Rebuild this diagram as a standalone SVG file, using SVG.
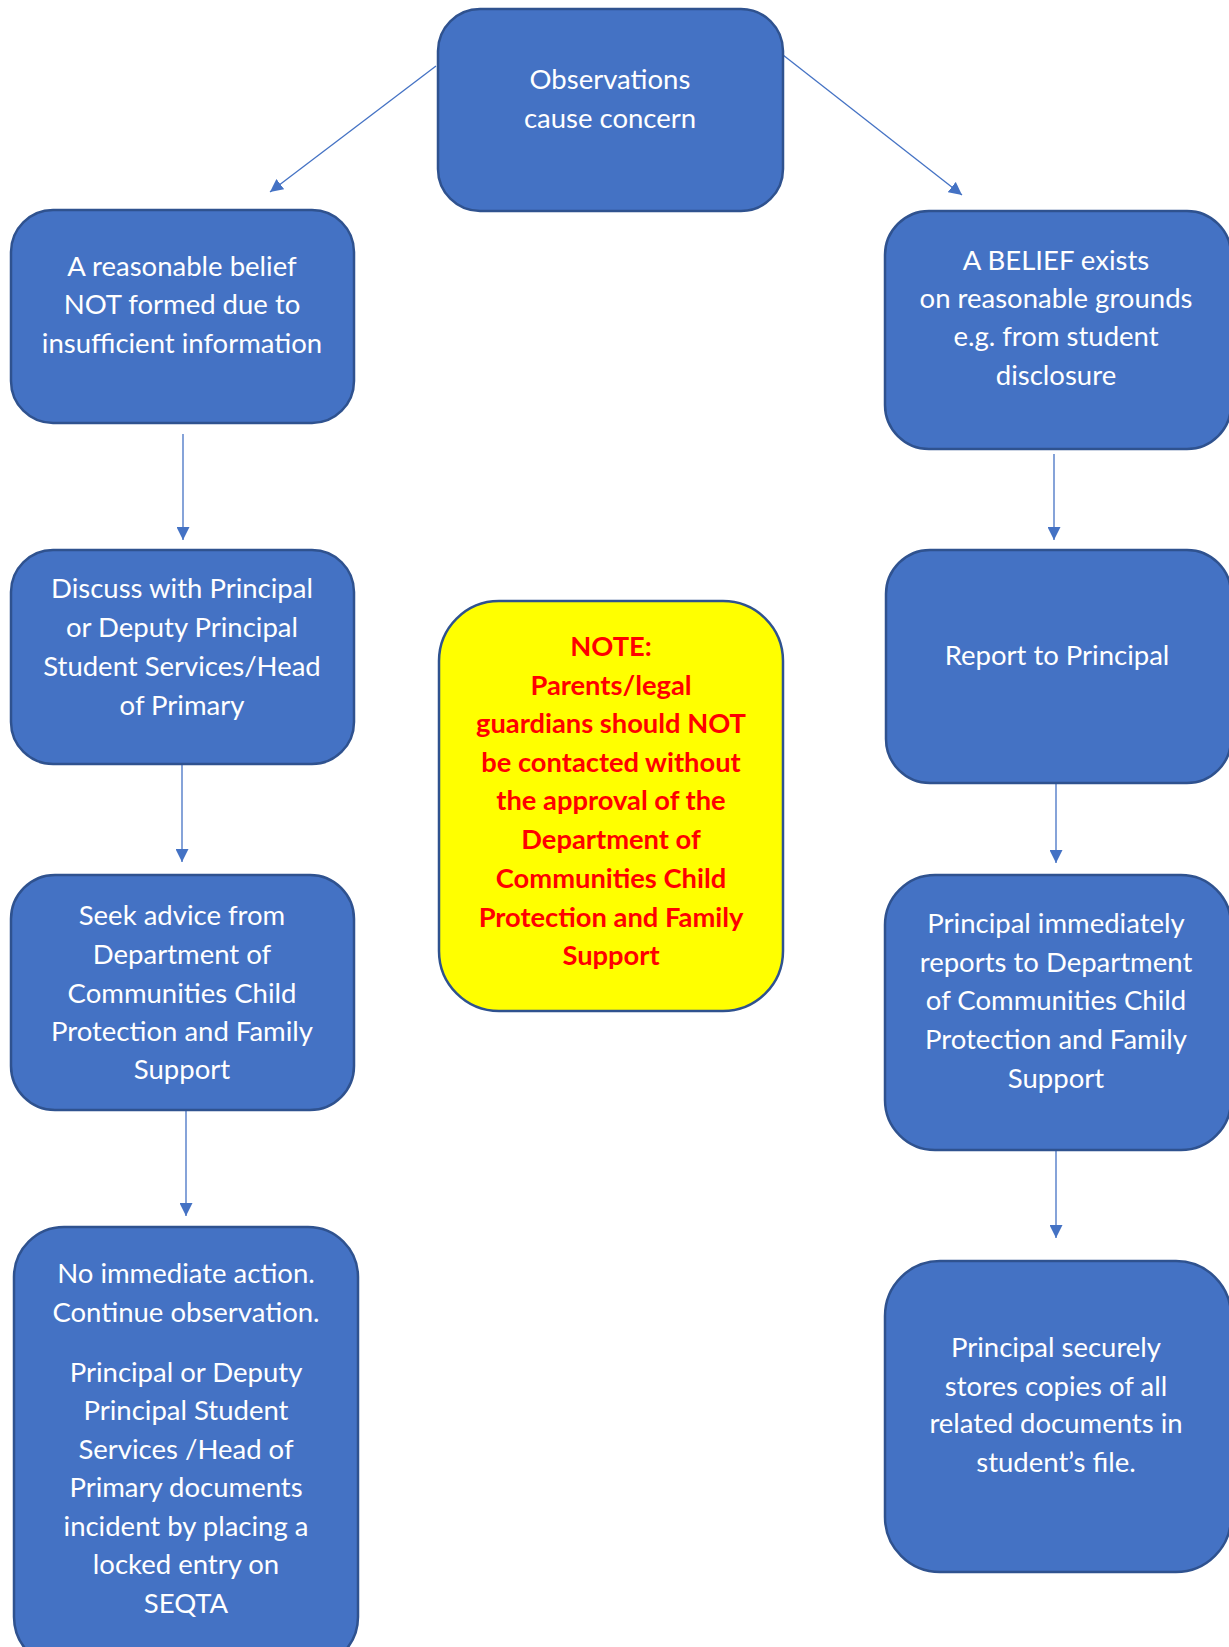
<svg xmlns="http://www.w3.org/2000/svg" width="1229" height="1647" viewBox="0 0 1229 1647">
<style>
.box{fill:#4472C4;stroke:#2F528F;stroke-width:2.5}
.note{fill:#FFFF00;stroke:#2F528F;stroke-width:2.5}
.t{font-family:Lato,"Open Sans","Liberation Sans",sans-serif;font-size:27.5px;fill:#fff;text-anchor:middle}
.r{font-family:Lato,"Open Sans","Liberation Sans",sans-serif;font-size:27.3px;font-weight:bold;fill:#FF0000;text-anchor:middle}
.c{stroke:#4472C4;stroke-width:1.3;fill:none;marker-end:url(#ah)}
</style>
<defs>
<marker id="ah" viewBox="0 0 10 10" refX="10" refY="5" markerWidth="13" markerHeight="13" markerUnits="userSpaceOnUse" orient="auto">
<path d="M0,0 L10,5 L0,10 z" fill="#4472C4"/>
</marker>
</defs>
<rect width="1229" height="1647" fill="#fff"/>
<g id="connectors">
<line class="c" x1="436" y1="66" x2="270" y2="192"/>
<line class="c" x1="783" y1="55" x2="962" y2="195"/>
<line class="c" x1="183" y1="434" x2="183" y2="540"/>
<line class="c" x1="182" y1="764" x2="182" y2="862"/>
<line class="c" x1="186" y1="1110" x2="186" y2="1216"/>
<line class="c" x1="1054" y1="454" x2="1054" y2="540"/>
<line class="c" x1="1056" y1="783" x2="1056" y2="863"/>
<line class="c" x1="1056" y1="1150" x2="1056" y2="1238"/>
</g>
<g id="observations">
<rect class="box" x="438" y="9" width="345" height="202" rx="42"/>
<text class="t" x="610" y="89">Observations</text>
<text class="t" x="610" y="128">cause concern</text>
</g>
<g id="no-belief">
<rect class="box" x="11" y="210" width="343" height="213" rx="42"/>
<text class="t" x="182" y="276">A reasonable belief</text>
<text class="t" x="182" y="314">NOT formed due to</text>
<text class="t" x="182" y="353">insufficient information</text>
</g>
<g id="belief">
<rect class="box" x="885" y="211" width="346" height="238" rx="44"/>
<text class="t" x="1056" y="270">A BELIEF exists</text>
<text class="t" x="1056" y="308">on reasonable grounds</text>
<text class="t" x="1056" y="346">e.g. from student</text>
<text class="t" x="1056" y="385">disclosure</text>
</g>
<g id="discuss">
<rect class="box" x="11" y="550" width="343" height="214" rx="42"/>
<text class="t" x="182" y="598">Discuss with Principal</text>
<text class="t" x="182" y="637">or Deputy Principal</text>
<text class="t" x="182" y="676">Student Services/Head</text>
<text class="t" x="182" y="715">of Primary</text>
</g>
<g id="report">
<rect class="box" x="886" y="550" width="345" height="233" rx="44"/>
<text class="t" x="1057" y="665">Report to Principal</text>
</g>
<g id="note">
<rect class="note" x="439" y="601" width="344" height="410" rx="60"/>
<text class="r" x="611" y="656">NOTE:</text>
<text class="r" x="611" y="695">Parents/legal</text>
<text class="r" x="611" y="733">guardians should NOT</text>
<text class="r" x="611" y="772">be contacted without</text>
<text class="r" x="611" y="810">the approval of the</text>
<text class="r" x="611" y="849">Department of</text>
<text class="r" x="611" y="888">Communities Child</text>
<text class="r" x="611" y="927">Protection and Family</text>
<text class="r" x="611" y="965">Support</text>
</g>
<g id="seek-advice">
<rect class="box" x="11" y="875" width="343" height="235" rx="44"/>
<text class="t" x="182" y="925">Seek advice from</text>
<text class="t" x="182" y="964">Department of</text>
<text class="t" x="182" y="1003">Communities Child</text>
<text class="t" x="182" y="1041">Protection and Family</text>
<text class="t" x="182" y="1079">Support</text>
</g>
<g id="principal-reports">
<rect class="box" x="885" y="875" width="346" height="275" rx="50"/>
<text class="t" x="1056" y="933">Principal immediately</text>
<text class="t" x="1056" y="972">reports to Department</text>
<text class="t" x="1056" y="1010">of Communities Child</text>
<text class="t" x="1056" y="1049">Protection and Family</text>
<text class="t" x="1056" y="1088">Support</text>
</g>
<g id="no-action">
<rect class="box" x="14" y="1227" width="344" height="440" rx="50"/>
<text class="t" x="186" y="1283">No immediate action.</text>
<text class="t" x="186" y="1322">Continue observation.</text>
<text class="t" x="186" y="1382">Principal or Deputy</text>
<text class="t" x="186" y="1420">Principal Student</text>
<text class="t" x="186" y="1459">Services /Head of</text>
<text class="t" x="186" y="1497">Primary documents</text>
<text class="t" x="186" y="1536">incident by placing a</text>
<text class="t" x="186" y="1574">locked entry on</text>
<text class="t" x="186" y="1613">SEQTA</text>
</g>
<g id="stores-copies">
<rect class="box" x="885" y="1261" width="346" height="311" rx="55"/>
<text class="t" x="1056" y="1357">Principal securely</text>
<text class="t" x="1056" y="1396">stores copies of all</text>
<text class="t" x="1056" y="1433">related documents in</text>
<text class="t" x="1056" y="1472">student’s file.</text>
</g>
</svg>
